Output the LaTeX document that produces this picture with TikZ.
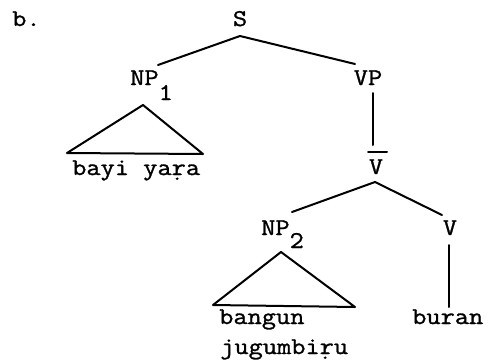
\documentclass[tikz,border=0pt]{standalone}
\usepackage{fontspec}
\setmainfont{Latin Modern Mono}[FakeStretch=1.15,FakeBold=1.2]
\begin{document}
\begin{tikzpicture}[x=1pt,y=-1pt,
  lbl/.style={inner sep=0pt,font=\fontsize{24}{28}\selectfont},
  edge/.style={line width=2pt,line cap=round},
  tri/.style={line width=2pt,line join=round}]
\useasboundingbox (0,0) rectangle (489,359);
% labels
\node[lbl,anchor=base west] (b) at (12,26) {b.};
\node[lbl,anchor=base] (s) at (240,26) {S};
\node[lbl,anchor=base west] (np1) at (130,85) {NP\raisebox{-15pt}{1}};
\node[lbl,anchor=base] (vp) at (368,85) {VP};
\node[lbl,anchor=base] (vbar) at (376,174) {V};
\node[lbl,anchor=base west] (np2) at (261,235) {NP\raisebox{-13pt}{2}};
\node[lbl,anchor=base] (v) at (450,235) {V};
\node[lbl,anchor=base west] (w1) at (72,175) {bayi yaṛa};
\node[lbl,anchor=base west] (w2) at (219,324) {bangun};
\node[lbl,anchor=base west] (w3) at (220,354) {jugumbiṛu};
\node[lbl,anchor=base west] (w4) at (412,324) {buran};
% connector end points
\coordinate (s-b) at (240,36);
\coordinate (np1-t) at (158,65);
\coordinate (vp-t) at (355,64);
\coordinate (vp-b) at (373,93);
\coordinate (vbar-t) at (373,145);
\coordinate (vbar-b) at (375,182);
\coordinate (np2-t) at (292,212);
\coordinate (v-t) at (442,215);
\coordinate (v-b) at (449,245);
\coordinate (w4-t) at (449,307);
% triangle corners
\coordinate (t1a) at (143,105);
\coordinate (t1l) at (67,153);
\coordinate (t1r) at (203,154);
\coordinate (t2a) at (281,252);
\coordinate (t2l) at (213,305);
\coordinate (t2r) at (355,307);
% bar of V-bar
\coordinate (bar-l) at (368,152);
\coordinate (bar-r) at (387,152);
% connectors
\draw[edge] (s-b) -- (np1-t);
\draw[edge] (s-b) -- (vp-t);
\draw[edge] (vp-b) -- (vbar-t);
\draw[edge] (bar-l) -- (bar-r);
\draw[edge] (vbar-b) -- (np2-t);
\draw[edge] (vbar-b) -- (v-t);
\draw[edge] (v-b) -- (w4-t);
\draw[tri] (t1a) -- (t1l) -- (t1r) -- cycle;
\draw[tri] (t2a) -- (t2l) -- (t2r) -- cycle;
\end{tikzpicture}
\end{document}
